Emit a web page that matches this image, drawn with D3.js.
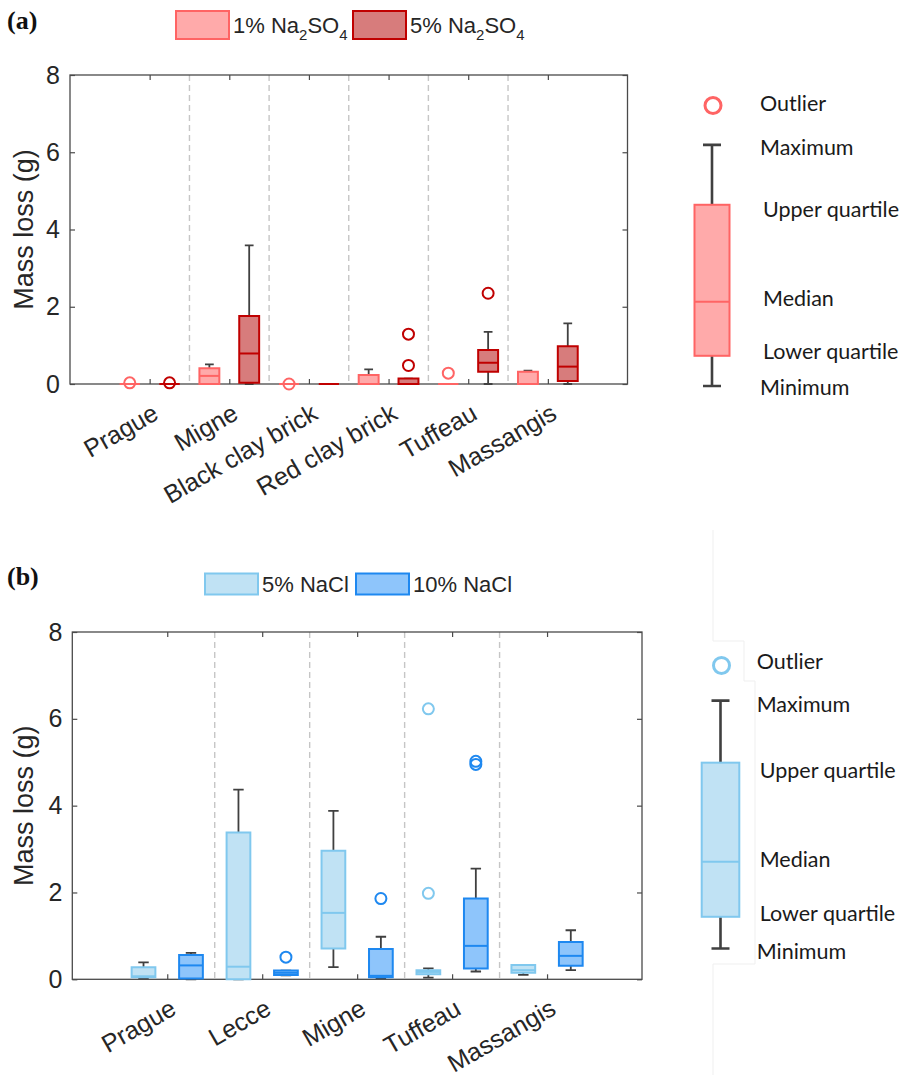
<!DOCTYPE html>
<html>
<head>
<meta charset="utf-8">
<script src="https://cdn.jsdelivr.net/npm/d3@7"></script>
<style>
  body { margin: 0; background: #fff; }
</style>
</head>
<body>
<script>
// ---------------- data (mass loss, g) ----------------
// each box: [minimum, lower quartile, median, upper quartile, maximum]
var catsA = ["Prague", "Migne", "Black clay brick", "Red clay brick", "Tuffeau", "Massangis"];
var seriesA = ["1% Na_2SO_4", "5% Na_2SO_4"];
var na1Stats = [
    [0, 0, 0, 0, 0],
    [0, 0, 0.21, 0.41, 0.51],
    [0, 0, 0, 0, 0],
    [0, 0, 0, 0.23, 0.38],
    [0, 0, 0, 0, 0],
    [0, 0, 0, 0.32, 0.345]
];
var na1Outliers = [[0.03], [], [0], [], [0.28], []];
var na5Stats = [
    [0, 0, 0, 0, 0],
    [0, 0.03, 0.79, 1.76, 3.59],
    [0, 0, 0, 0, 0],
    [0, 0, 0, 0.14, 0.14],
    [0, 0.32, 0.55, 0.88, 1.35],
    [0, 0.08, 0.45, 0.98, 1.57]
];
var na5Outliers = [[0.03], [], [], [0.48, 1.29], [2.35], []];

var catsB = ["Prague", "Lecce", "Migne", "Tuffeau", "Massangis"];
var seriesB = ["5% NaCl", "10% NaCl"];
var nacl5Stats = [
    [0.02, 0.05, 0.07, 0.28, 0.39],
    [0, 0, 0.29, 3.38, 4.37],
    [0.28, 0.71, 1.53, 2.96, 3.88],
    [0.04, 0.115, 0.17, 0.21, 0.25],
    [0.1, 0.15, 0.21, 0.33, 0.33]
];
var nacl5Outliers = [[], [], [], [1.98, 6.23], []];
var nacl10Stats = [
    [0, 0.02, 0.32, 0.56, 0.61],
    [0.09, 0.1, 0.15, 0.2, 0.2],
    [0.03, 0.05, 0.08, 0.70, 0.98],
    [0.18, 0.25, 0.77, 1.86, 2.55],
    [0.21, 0.31, 0.54, 0.86, 1.13]
];
var nacl10Outliers = [[], [0.51], [1.86], [4.95, 5.02], []];

var yTicks = [0, 2, 4, 6, 8];

// schematic key on the right, in axis units
var keyLabels = ["Outlier", "Maximum", "Upper quartile", "Median", "Lower quartile", "Minimum"];
var keyStatsA = [-0.05, 0.73, 2.13, 4.64, 6.19];
var keyOutlierA = 7.21;
var keyLabelPosA = [7.25, 6.12, 4.51, 2.21, 0.83, -0.10];
var keyStatsB = [0.71, 1.44, 2.71, 4.99, 6.42];
var keyOutlierB = 7.23;
var keyLabelPosB = [7.33, 6.34, 4.82, 2.75, 1.51, 0.65];

// ---------------- drawing ----------------
var svg = d3.select("body").append("svg")
        .attr("width", 907)
        .attr("height", 1075)
        .style("font-family", "'Liberation Sans', Arial, Helvetica, sans-serif");

var whiskerColor = "#404040";

// writes "Na_2SO_4" style labels with subscripts
function richText(sel, str, size) {
    var parts = str.split(/_(\d)/);
    var sub = false;
    parts.forEach(function(t, i) {
        if (!t) return;
        var isSub = i % 2 === 1;
        var ts = sel.append("tspan").text(t);
        if (isSub) {
            ts.attr("font-size", size * 0.68).attr("dy", sub ? 0 : 7);
            sub = true;
        } else {
            ts.attr("font-size", size).attr("dy", sub ? -7 : 0);
            sub = false;
        }
    });
}

function drawPanel(p) {
    var nBox = p.cats.length * 2;
    var x = d3.scaleLinear().domain([-0.5, nBox + 1.5]).range([p.left, p.right]);
    var y = d3.scaleLinear().domain([0, 8]).range([p.bottom, p.top]);
    var g = svg.append("g");

//separators between the stone groups
    var seps = d3.range(1, p.cats.length).map(function(i) { return i * 2 + 0.5; });
    g.selectAll(".sep").data(seps).enter().append("line")
            .attr("x1", function(d) { return x(d); })
            .attr("x2", function(d) { return x(d); })
            .attr("y1", p.top)
            .attr("y2", p.bottom)
            .attr("stroke", "#c6c6c6")
            .attr("stroke-width", 1.4)
            .attr("stroke-dasharray", "6,4");

//axes, ticks pointing inwards like matlab
    var centers = p.cats.map(function(c, i) { return i * 2 + 1.5; });
    var axL = g.append("g").attr("transform", "translate(" + p.left + ",0)")
            .call(d3.axisLeft(y).tickValues(yTicks).tickSizeInner(-5).tickSizeOuter(0).tickPadding(10));
    var axR = g.append("g").attr("transform", "translate(" + p.right + ",0)")
            .call(d3.axisRight(y).tickValues(yTicks).tickSizeInner(-5).tickSizeOuter(0).tickFormat(""));
    var axT = g.append("g").attr("transform", "translate(0," + p.top + ")")
            .call(d3.axisTop(x).tickValues(centers).tickSizeInner(-5).tickSizeOuter(0).tickFormat(""));
    var axB = g.append("g").attr("transform", "translate(0," + p.bottom + ")")
            .call(d3.axisBottom(x).tickValues(centers).tickSizeInner(-5).tickSizeOuter(0)
                    .tickFormat(function(d, i) { return p.cats[i]; }));
    [axL, axR, axT, axB].forEach(function(a) {
        a.select(".domain").remove();
        a.selectAll(".tick line").attr("stroke", "#4a4a4a").attr("stroke-width", 1.2);
        a.selectAll("text").attr("fill", "#262626").attr("font-family", null);
    });
    axL.selectAll("text").attr("font-size", 25);
    axB.selectAll("text")
            .attr("font-size", 25)
            .attr("text-anchor", "end")
            .attr("x", 10)
            .attr("y", 34)
            .attr("dy", 0)
            .attr("transform", "rotate(-30,10,34)");

    g.append("rect")
            .attr("x", p.left).attr("y", p.top)
            .attr("width", p.right - p.left).attr("height", p.bottom - p.top)
            .attr("fill", "none").attr("stroke", "#4a4a4a").attr("stroke-width", 1.3);

    g.append("text")
            .attr("transform", "translate(" + p.yLabelX + "," + (p.top + p.bottom) / 2 + ") rotate(-90)")
            .attr("text-anchor", "middle")
            .attr("font-size", 27)
            .attr("fill", "#262626")
            .text("Mass loss (g)");

//boxes
    var bw = 0.5, cw = 0.11;
    p.series.forEach(function(s, si) {
        var sg = g.append("g");
        s.stats.forEach(function(st, gi) {
            var pos = gi * 2 + si + 1;
            var cx = x(pos);
            var half = x(pos + bw / 2) - cx;
            var cap = x(pos + cw) - cx;
            // whiskers
            sg.append("path")
                    .attr("d", "M" + cx + "," + y(st[3]) + "V" + y(st[4]) +
                            "M" + (cx - cap) + "," + y(st[4]) + "H" + (cx + cap) +
                            "M" + cx + "," + y(st[1]) + "V" + y(st[0]) +
                            "M" + (cx - cap) + "," + y(st[0]) + "H" + (cx + cap))
                    .attr("stroke", whiskerColor).attr("stroke-width", 1.8).attr("fill", "none");
            sg.append("path")
                    .attr("d", "M" + (cx - half) + "," + y(st[1]) + "V" + y(st[3]) +
                            "H" + (cx + half) + "V" + y(st[1]) + "Z")
                    .attr("fill", s.fill).attr("stroke", s.stroke).attr("stroke-width", 2);
            sg.append("line")
                    .attr("x1", cx - half).attr("x2", cx + half)
                    .attr("y1", y(st[2])).attr("y2", y(st[2]))
                    .attr("stroke", s.stroke).attr("stroke-width", 2);
            s.outliers[gi].forEach(function(o) {
                sg.append("circle")
                        .attr("cx", cx).attr("cy", y(o)).attr("r", 5.5)
                        .attr("fill", "none").attr("stroke", s.stroke).attr("stroke-width", 2);
            });
        });
    });

//series legend on top
    p.series.forEach(function(s, si) {
        var lx = p.legendX[si];
        svg.append("rect")
                .attr("x", lx).attr("y", p.legendY - p.legendH / 2)
                .attr("width", 53).attr("height", p.legendH)
                .attr("fill", s.fill).attr("stroke", s.stroke).attr("stroke-width", 2);
        var t = svg.append("text")
                .attr("x", lx + 57).attr("y", p.legendY + 8)
                .attr("fill", "#262626");
        richText(t, s.name, 22);
    });

    svg.append("text")
            .attr("x", 7).attr("y", p.tagY)
            .attr("font-family", "'Liberation Serif', 'Times New Roman', serif")
            .attr("font-weight", "bold")
            .attr("font-size", 26)
            .attr("fill", "#111")
            .text(p.tag);

//schematic key
    var k = p.key, kx = k.x;
    var kg = svg.append("g");
    kg.append("path")
            .attr("d", "M" + kx + "," + y(k.stats[3]) + "V" + y(k.stats[4]) +
                    "M" + (kx - 9) + "," + y(k.stats[4]) + "H" + (kx + 9) +
                    "M" + kx + "," + y(k.stats[1]) + "V" + y(k.stats[0]) +
                    "M" + (kx - 9) + "," + y(k.stats[0]) + "H" + (kx + 9))
            .attr("stroke", whiskerColor).attr("stroke-width", 2.6).attr("fill", "none");
    kg.append("rect")
            .attr("x", kx - k.w / 2).attr("y", y(k.stats[3]))
            .attr("width", k.w).attr("height", y(k.stats[1]) - y(k.stats[3]))
            .attr("fill", p.series[0].fill).attr("stroke", p.series[0].stroke).attr("stroke-width", 2);
    kg.append("line")
            .attr("x1", kx - k.w / 2).attr("x2", kx + k.w / 2)
            .attr("y1", y(k.stats[2])).attr("y2", y(k.stats[2]))
            .attr("stroke", p.series[0].stroke).attr("stroke-width", 2);
    kg.append("circle")
            .attr("cx", kx + 1).attr("cy", y(k.outlier)).attr("r", 8)
            .attr("fill", "none").attr("stroke", p.series[0].stroke).attr("stroke-width", 3);
    kg.selectAll(".klab").data(keyLabels).enter().append("text")
            .attr("x", function(d, i) { return (i >= 2 && i <= 4) ? k.textX + 3 : k.textX; })
            .attr("y", function(d, i) { return y(k.labelPos[i]); })
            .attr("dy", "0.35em")
            .attr("font-family", "Lato, 'Open Sans', sans-serif")
            .attr("font-size", 21.5)
            .attr("fill", "#1a1a1a")
            .text(function(d) { return d; });
}

// faint border left over from the pasted key of panel (b)
svg.append("path")
        .attr("d", "M713,530V641H744V681H755V964H713V1075")
        .attr("fill", "none").attr("stroke", "#efefef").attr("stroke-width", 1);

drawPanel({
    tag: "(a)", tagY: 29,
    cats: catsA,
    left: 70, right: 627.5, top: 75, bottom: 384,
    yLabelX: 33,
    legendX: [176, 353], legendY: 25, legendH: 28,
    series: [
        {name: seriesA[0], stats: na1Stats, outliers: na1Outliers, fill: "#ffaaaa", stroke: "#ff6464"},
        {name: seriesA[1], stats: na5Stats, outliers: na5Outliers, fill: "#d77c7c", stroke: "#c00000"}
    ],
    key: {x: 712, w: 35, textX: 760, stats: keyStatsA, outlier: keyOutlierA, labelPos: keyLabelPosA}
});

drawPanel({
    tag: "(b)", tagY: 585,
    cats: catsB,
    left: 72.3, right: 642, top: 632, bottom: 979.3,
    yLabelX: 33,
    legendX: [205, 356], legendY: 584, legendH: 21,
    series: [
        {name: seriesB[0], stats: nacl5Stats, outliers: nacl5Outliers, fill: "#c0e2f4", stroke: "#80c8ee"},
        {name: seriesB[1], stats: nacl10Stats, outliers: nacl10Outliers, fill: "#8ec5fb", stroke: "#1e88f0"}
    ],
    key: {x: 720.5, w: 37.6, textX: 756.7, stats: keyStatsB, outlier: keyOutlierB, labelPos: keyLabelPosB}
});
</script>
</body>
</html>
